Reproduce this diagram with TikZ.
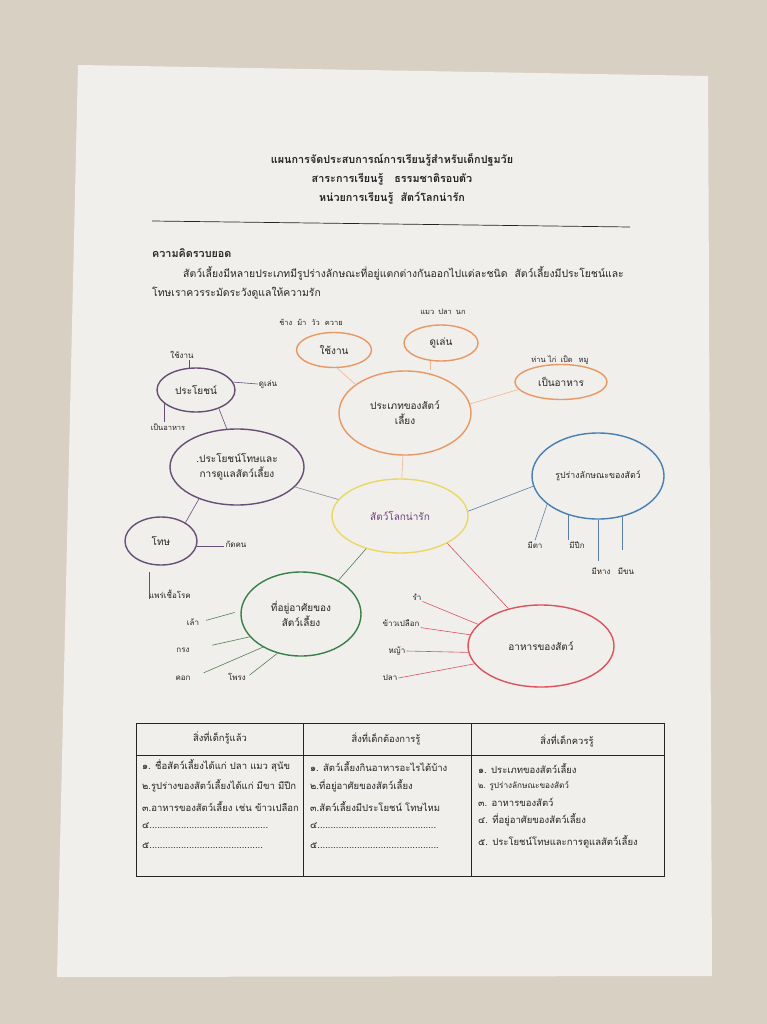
\documentclass[tikz,border=0pt]{standalone}
\usepackage{fontspec}
\setmainfont[Script=Thai]{Loma}
\usetikzlibrary{shapes.geometric}

\definecolor{wall}{RGB}{216,208,194}
\definecolor{paper}{RGB}{240,239,236}
\definecolor{ink}{RGB}{38,36,36}
\definecolor{tangerine}{RGB}{232,152,98}
\definecolor{lemon}{RGB}{236,214,100}
\definecolor{plum}{RGB}{104,78,118}
\definecolor{sky}{RGB}{72,126,180}
\definecolor{leaf}{RGB}{56,128,70}
\definecolor{rose}{RGB}{222,82,94}

\begin{document}
\begin{tikzpicture}[x=1pt, y=-1pt,
	bubble/.style={ellipse, line width=1.4pt, inner sep=0pt, align=center, text=ink, font=\fontsize{10}{15}\selectfont},
	tag/.style={text=ink, inner sep=1pt, font=\fontsize{8}{9}\selectfont},
	cell/.style={anchor=west, text=ink, inner sep=0pt, font=\fontsize{9.5}{11}\selectfont},
	head/.style={text=ink, inner sep=0pt, font=\bfseries\fontsize{10.8}{12}\selectfont},
	twig/.style={line width=0.6pt}
]
	\useasboundingbox (0,0) rectangle (767,1024);
	\fill[wall] (0,0) rectangle (767,1024);
	\fill[paper] (78,65) -- (708,76) -- (712,976) -- (57,977) -- cycle;

	% heading
	\node[head] (title) at (392,160) {แผนการจัดประสบการณ์การเรียนรู้สำหรับเด็กปฐมวัย};
	\node[head] (subject) at (392,179) {สาระการเรียนรู้\ \ \ ธรรมชาติรอบตัว};
	\node[head] (unit) at (392,198) {หน่วยการเรียนรู้\ \ สัตว์โลกน่ารัก};
	\coordinate (ruleL) at (152,221);
	\coordinate (ruleR) at (630,227);
	\draw[ink, line width=0.7pt] (ruleL) -- (ruleR);

	\node[head, anchor=west] (concept) at (152,253) {ความคิดรวบยอด};
	\node[cell, font=\fontsize{10.4}{12}\selectfont] (para1) at (183,273) {สัตว์เลี้ยงมีหลายประเภทมีรูปร่างลักษณะที่อยู่แตกต่างกันออกไปแต่ละชนิด\ \ สัตว์เลี้ยงมีประโยชน์และ};
	\node[cell, font=\fontsize{10.4}{12}\selectfont] (para2) at (152,293) {โทษเราควรระมัดระวังดูแลให้ความรัก};

	% mind map
	\node[bubble, draw=lemon, text=plum!85!violet, minimum width=136, minimum height=74] (hub) at (400,516) {สัตว์โลกน่ารัก};
	\node[bubble, draw=tangerine, minimum width=132, minimum height=84] (kind) at (405,413) {ประเภทของสัตว์\\เลี้ยง};
	\node[bubble, draw=tangerine, minimum width=75, minimum height=35] (work) at (334,350) {ใช้งาน};
	\node[bubble, draw=tangerine, minimum width=74, minimum height=36] (play) at (441,343) {ดูเล่น};
	\node[bubble, draw=tangerine, minimum width=92, minimum height=35] (meat) at (561,382) {เป็นอาหาร};
	\node[bubble, draw=sky, font=\fontsize{8.8}{10}\selectfont, minimum width=132, minimum height=86] (shape) at (598,476) {รูปร่างลักษณะของสัตว์};
	\node[bubble, draw=plum, minimum width=134, minimum height=76] (care) at (237,467) {.ประโยชน์โทษและ\\การดูแลสัตว์เลี้ยง};
	\node[bubble, draw=plum, minimum width=78, minimum height=44] (ben) at (196,390) {ประโยชน์};
	\node[bubble, draw=plum, minimum width=72, minimum height=48] (harm) at (161,541) {โทษ};
	\node[bubble, draw=leaf, minimum width=120, minimum height=84] (hab) at (301,614) {ที่อยู่อาศัยของ\\สัตว์เลี้ยง};
	\node[bubble, draw=rose, minimum width=146, minimum height=82] (food) at (541,646) {อาหารของสัตว์};

	\draw[twig, tangerine!70] (hub) -- (kind);
	\draw[twig, tangerine!70] (work.-80) -- (kind.150);
	\draw[twig, tangerine!70] (play.240) -- (play.240 |- kind.north);
	\draw[twig, tangerine!70] (kind.8) -- (meat.190);
	\draw[twig, sky!70!gray] (hub.4) -- (shape.189);
	\draw[twig, plum!70] (hub.165) -- (care.-19);
	\draw[twig, rose] (hub.-30) -- (food.131);
	\draw[twig, leaf!70!gray] (hub.224) -- (hab.42);
	\draw[twig, plum] (ben.-39) -- (care.105);
	\draw[twig, plum] (care.220) -- (harm.37);

	% small words
	\node[tag, font=\fontsize{7.5}{9}\selectfont] (lwork) at (311,322) {ช้าง\hspace{5pt}ม้า\hspace{5pt}วัว\hspace{5pt}ควาย};
	\node[tag, font=\fontsize{7.5}{9}\selectfont] (lpets) at (443,312) {แมว\hspace{4pt}ปลา\hspace{4pt}นก};
	\node[tag, font=\fontsize{7.5}{9}\selectfont] (lmeat) at (560,360) {ห่าน ไก่\hspace{4pt}เป็ด\hspace{6pt}หมู};

	\node[tag] (buse) at (182,355) {ใช้งาน};
	\node[tag] (bplay) at (268,384) {ดูเล่น};
	\node[tag, font=\fontsize{7.5}{9}\selectfont] (bfood) at (168,427) {เป็นอาหาร};
	\node[tag] (hbite) at (236,544) {กัดคน};
	\node[tag] (hgerm) at (170,594) {แพร่เชื้อโรค};
	\coordinate (germtop) at (149,572);
	\draw[twig, plum] (ben.107) -- (ben.107 |- buse.south);
	\draw[twig, plum] (ben.12) -- (bplay.west);
	\draw[twig, plum] (ben.203) -- (ben.203 |- bfood.north);
	\draw[twig, plum] (harm.-8) -- (harm.-8 -| hbite.west);
	\draw[twig, plum] (germtop) -- (germtop |- hgerm.south);

	\node[tag] (eye) at (535,545) {มีตา};
	\node[tag] (wing) at (577,545) {มีปีก};
	\node[tag] (tail) at (601,571) {มีหาง};
	\node[tag] (fur) at (626,571) {มีขน};
	\draw[twig, sky!70!gray] (shape.209) -- (eye.north);
	\draw[twig, sky!70!gray] (shape.233) -- (shape.233 |- wing.north);
	\draw[twig, sky!70!gray, shorten >=5pt] (shape.270) -- (shape.270 |- tail.north);
	\draw[twig, sky!70!gray, shorten >=16pt] (shape.301) -- (shape.301 |- fur.north);

	\node[tag] (coop) at (193,622) {เล้า};
	\node[tag] (cage) at (183,650) {กรง};
	\node[tag] (pen) at (183,678) {คอก};
	\node[tag] (hole) at (237,677) {โพรง};
	\draw[twig, leaf!70!gray, shorten <=6pt, shorten >=6pt] (coop.east) -- (hab.177);
	\draw[twig, leaf!70!gray, shorten <=22pt] (cage.east) -- (hab.204);
	\draw[twig, leaf!70!gray, shorten <=13pt] (pen.east) -- (hab.221);
	\draw[twig, leaf!70!gray, shorten <=3pt] (hole.east) -- (hab.239);

	\node[tag] (bran) at (417,597) {รำ};
	\node[tag] (paddy) at (401,623) {ข้าวเปลือก};
	\node[tag] (grass) at (397,651) {หญ้า};
	\node[tag] (fish) at (390,678) {ปลา};
	\draw[twig, rose] (bran.south east) -- (food.161);
	\draw[twig, rose] (paddy.south east) -- (food.171);
	\draw[twig, rose] (grass.east) -- (food.185);
	\draw[twig, rose] (fish.east) -- (food.195);

	% table
	\draw[ink, line width=0.7pt] (136,723) rectangle (664,876);
	\draw[ink, line width=0.7pt] (136,755) -- (664,755);
	\draw[ink, line width=0.7pt] (303,723) -- (303,876);
	\draw[ink, line width=0.7pt] (471,723) -- (471,876);
	\node[text=ink, font=\fontsize{9.4}{11}\selectfont] (know) at (220,738) {สิ่งที่เด็กรู้แล้ว};
	\node[text=ink, font=\fontsize{9.4}{11}\selectfont] (want) at (386,739) {สิ่งที่เด็กต้องการรู้};
	\node[text=ink, font=\fontsize{9.4}{11}\selectfont] (should) at (567,741) {สิ่งที่เด็กควรรู้};

	\node[cell] (k1) at (142,766) {๑. ชื่อสัตว์เลี้ยงได้แก่ ปลา แมว สุนัข};
	\node[cell] (k2) at (142,786) {๒.รูปร่างของสัตว์เลี้ยงได้แก่ มีขา มีปีก};
	\node[cell] (k3) at (142,806) {๓.อาหารของสัตว์เลี้ยง เช่น ข้าวเปลือก};
	\node[cell] (k4) at (142,826) {๔.............................................};
	\node[cell] (k5) at (142,846) {๕...........................................};

	\node[cell] (w1) at (310,766) {๑. สัตว์เลี้ยงกินอาหารอะไรได้บ้าง};
	\node[cell] (w2) at (310,786) {๒.ที่อยู่อาศัยของสัตว์เลี้ยง};
	\node[cell] (w3) at (310,806) {๓.สัตว์เลี้ยงมีประโยชน์ โทษไหม};
	\node[cell] (w4) at (310,826) {๔.............................................};
	\node[cell] (w5) at (310,846) {๕..............................................};

	\node[cell] (s1) at (478,768) {๑. ประเภทของสัตว์เลี้ยง};
	\node[cell, font=\fontsize{8.2}{9}\selectfont] (s2) at (478,786) {๒. รูปร่างลักษณะของสัตว์};
	\node[cell] (s3) at (478,802) {๓. อาหารของสัตว์};
	\node[cell] (s4) at (478,820) {๔. ที่อยู่อาศัยของสัตว์เลี้ยง};
	\node[cell] (s5) at (478,842) {๕. ประโยชน์โทษและการดูแลสัตว์เลี้ยง};
\end{tikzpicture}
\end{document}
